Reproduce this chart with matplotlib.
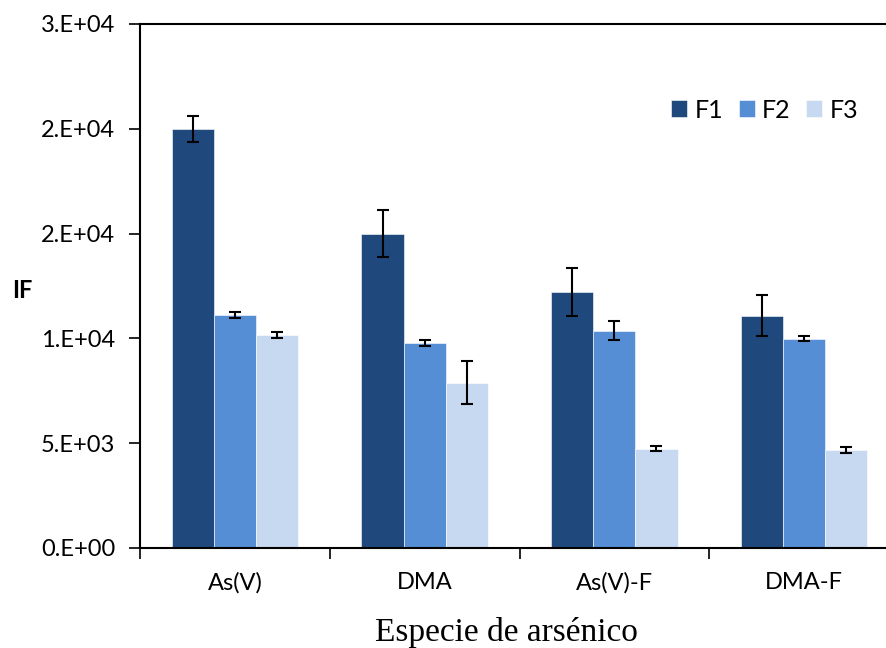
import numpy as np
from matplotlib import pyplot as plt

species = ["As(V)", "DMA", "As(V)-F", "DMA-F"]
series = ["F1", "F2", "F3"]
f1 = [20000, 15000, 12200, 11080]
f2 = [11130, 9790, 10360, 9980]
f3 = [10170, 7880, 4730, 4680]
f1_err = [620, 1120, 1150, 980]
f2_err = [150, 130, 450, 120]
f3_err = [150, 1030, 120, 130]
yticks = [0, 5000, 10000, 15000, 20000, 25000]
ytick_labels = ["0.E+00", "5.E+03", "1.E+04", "2.E+04", "2.E+04", "3.E+04"]
colors = ["#1F497D", "#558ED5", "#C6D9F1"]

plt.rcParams["font.family"] = ["Lato", "DejaVu Sans"]

fig = plt.figure(figsize=(8.87, 6.48), dpi=100)
# axes runs a little past the right edge like in the original screenshot
ax = fig.add_axes([140 / 887, 1 - 548 / 648, 759 / 887, 524 / 648])

x = np.arange(len(species))
w = 0.222
for i, (vals, errs) in enumerate(zip([f1, f2, f3], [f1_err, f2_err, f3_err])):
    ax.bar(x + (i - 1) * w, vals, w, color=colors[i], edgecolor="white", linewidth=0.4,
           label=series[i], yerr=errs, capsize=4.5,
           error_kw=dict(elinewidth=1.5, capthick=1.5, ecolor="black"))

ax.set_xlim(-0.5, 3.5)
ax.set_ylim(0, 25000)
ax.set_yticks(yticks)
ax.set_yticklabels(ytick_labels)

ax.set_xticks(np.arange(-0.5, 3.6, 1.0))
ax.set_xticklabels([])
ax.set_xticks(x, minor=True)
ax.set_xticklabels(species, minor=True)
ax.tick_params(axis="x", which="minor", length=0, pad=17, labelsize=17)
ax.tick_params(axis="x", which="major", length=8, width=1.2, direction="out")
ax.tick_params(axis="y", length=8, width=1.2, direction="out", labelsize=17, pad=10)

for s in ax.spines.values():
    s.set_linewidth(1.5)

ax.set_xlabel("Especie de arsénico", family="Liberation Serif", fontsize=24, va="center")
ax.xaxis.set_label_coords(366 / 759, -84 / 524)
fig.text(12 / 887, 1 - 290 / 648, "IF", fontsize=17, fontweight="bold", va="center")

fig.legend(*ax.get_legend_handles_labels(), loc="center left",
           bbox_to_anchor=(671 / 887, 1 - 110 / 648), bbox_transform=fig.transFigure,
           ncol=3, frameon=False, borderpad=0, borderaxespad=0,
           fontsize=18, handlelength=0.64, handleheight=0.64, handletextpad=0.3,
           columnspacing=0.62)

fig.savefig("out.png", dpi=100)
